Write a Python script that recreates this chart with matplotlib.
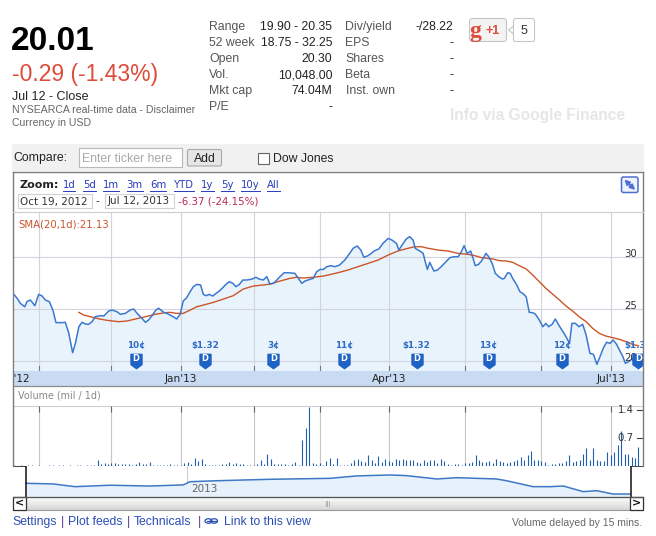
import numpy as np
import matplotlib
matplotlib.use("Agg")
import matplotlib.pyplot as plt
from matplotlib.patches import Rectangle, FancyBboxPatch, Polygon, Ellipse
from matplotlib.path import Path
from matplotlib.transforms import blended_transform_factory as blend

W, H = 656, 536
SANS = "Liberation Sans"
CHART = "DejaVu Sans"

# quote header
last_price = "20.01"
change = "-0.29 (-1.43%)"
stat_labels_1 = ["Range", "52 week", "Open", "Vol.", "Mkt cap", "P/E"]
stat_values_1 = ["19.90 - 20.35", "18.75 - 32.25", "20.30", "10,048.00", "74.04M", "-"]
stat_labels_2 = ["Div/yield", "EPS", "Shares", "Beta", "Inst. own"]
stat_values_2 = ["-/28.22", "-", "-", "-", "-"]
zoom_links = ["1d", "5d", "1m", "3m", "6m", "YTD", "1y", "5y", "10y", "All"]
footer_items = ["Settings", "|", "Plot feeds", "|", "Technicals", "|", "", "Link to this view"]

# price chart, x = trading days since Oct 19, 2012
price_days = [0.0, 0.8, 1.7, 3.0, 3.6, 4.6, 5.9, 7.0, 8.0, 8.9, 10.1, 11.1, 12.0, 13.7, 14.7,
              15.7, 16.8, 17.6, 18.6, 19.5, 20.5, 21.4, 22.4, 23.3, 24.8, 25.8, 27.2, 28.2, 29.6,
              30.6, 32.0, 33.4, 34.4, 35.4, 36.8, 37.8, 38.7, 39.7, 40.8, 41.6, 43.1, 44.0, 44.9,
              45.8, 46.8, 47.8, 48.7, 49.7, 50.7, 51.6, 52.6, 53.7, 54.5, 55.3, 56.2, 57.2, 58.2,
              59.1, 60.1, 61.0, 62.0, 63.0, 63.9, 64.9, 65.9, 67.0, 68.4, 69.7, 70.6, 71.8, 72.8,
              73.7, 74.7, 75.7, 76.6, 77.8, 79.0, 80.9, 81.9, 82.9, 83.8, 85.3, 86.2, 87.2, 88.2,
              89.1, 90.1, 91.4, 92.4, 93.8, 95.3, 96.7, 97.7, 98.9, 99.9, 100.8, 102.0, 102.9,
              103.9, 105.1, 106.3, 107.8, 108.9, 110.2, 110.9, 111.8, 113.0, 114.0, 115.0, 115.6,
              116.9, 117.9, 118.5, 119.1, 119.8, 121.0, 122.0, 123.1, 124.3, 125.6, 126.8, 128.0,
              128.9, 129.7, 130.6, 131.6, 132.3, 132.9, 133.9, 134.7, 135.5, 136.0, 136.8, 137.8,
              138.7, 139.7, 140.8, 141.3, 142.3, 143.0, 143.7, 144.9, 145.8, 146.6, 147.6, 148.5,
              149.5, 150.3, 151.4, 152.4, 153.3, 154.1, 155.1, 156.0, 157.0, 158.2, 159.1, 160.1,
              160.8, 161.8, 162.8, 163.9, 164.9, 166.0, 167.0, 168.0, 168.9, 169.9, 170.8, 171.8,
              172.7, 173.7, 174.5, 175.5, 176.2, 177.2, 178.3, 179.5, 180.0]
price_close = [26.35, 26.03, 25.55, 25.22, 25.70, 25.87, 25.32, 26.41, 26.25, 25.87, 25.70, 24.90,
               23.69, 23.69, 23.72, 22.66, 20.80, 21.70, 23.30, 23.72, 23.56, 23.53, 23.78, 24.26,
               24.36, 24.33, 24.81, 24.90, 24.74, 24.49, 24.58, 24.90, 25.00, 24.58, 24.10, 23.72,
               23.94, 24.36, 24.90, 25.07, 24.68, 24.58, 24.42, 24.26, 24.04, 24.49, 25.77, 26.09,
               26.67, 27.15, 27.37, 27.31, 26.41, 26.28, 26.41, 26.25, 26.51, 26.73, 27.05, 27.37,
               27.63, 27.47, 27.15, 27.37, 27.79, 27.79, 27.86, 28.05, 27.88, 27.79, 28.11, 27.40,
               27.47, 27.79, 28.11, 28.49, 28.49, 28.43, 27.95, 27.47, 27.69, 27.86, 27.95, 28.59,
               28.81, 28.81, 29.07, 29.17, 29.07, 29.23, 29.71, 30.35, 30.84, 31.06, 30.67, 29.97,
               30.13, 30.35, 30.61, 30.77, 31.31, 31.79, 31.63, 31.31, 30.67, 31.15, 31.73, 31.96,
               31.63, 30.84, 30.58, 30.35, 29.55, 28.81, 29.49, 28.65, 28.75, 29.07, 29.49, 29.94,
               30.03, 30.03, 30.51, 31.09, 30.35, 30.58, 29.87, 29.17, 29.30, 29.62, 30.03, 30.35,
               30.03, 29.39, 28.43, 28.11, 27.88, 27.95, 28.49, 28.43, 27.95, 27.31, 26.67, 26.51,
               26.18, 24.68, 24.65, 24.49, 23.94, 23.30, 23.62, 23.30, 23.53, 24.04, 23.46, 22.82,
               22.34, 21.70, 23.62, 23.62, 23.30, 23.53, 22.50, 20.74, 20.64, 19.68, 20.42, 21.28,
               21.80, 21.70, 22.02, 21.60, 21.06, 20.42, 19.78, 19.94, 20.26, 20.42, 20.01]
sma_days = [18.6, 20.0, 21.9, 23.8, 26.2, 28.2, 30.1, 32.5, 34.9, 37.8, 40.6, 43.5, 44.9, 46.8,
            48.7, 50.7, 52.6, 54.5, 57.4, 60.3, 63.1, 66.0, 68.9, 71.8, 73.7, 76.6, 79.5, 81.4,
            83.3, 86.2, 89.1, 90.5, 93.3, 96.2, 99.1, 102.0, 104.9, 107.8, 110.6, 113.5, 115.5,
            117.4, 119.3, 122.2, 125.1, 128.0, 130.8, 132.8, 134.7, 136.0, 138.0, 139.9, 141.8,
            143.7, 145.6, 147.6, 149.5, 151.4, 153.3, 155.3, 157.2, 159.1, 161.0, 162.9, 164.9,
            166.8, 168.7, 170.6, 172.6, 174.5, 176.4, 178.3, 180.0]
sma_vals = [24.68, 24.42, 24.26, 24.10, 23.94, 23.85, 23.78, 23.85, 24.04, 24.26, 24.49, 24.65,
            24.68, 24.58, 24.58, 24.90, 25.22, 25.38, 25.64, 25.96, 26.28, 26.92, 27.21, 27.31,
            27.40, 27.69, 27.95, 28.05, 27.98, 28.05, 28.17, 28.27, 28.49, 28.75, 29.07, 29.39,
            29.71, 30.19, 30.58, 30.84, 30.99, 30.99, 30.84, 30.67, 30.58, 30.35, 30.26, 30.13,
            29.94, 29.90, 29.81, 29.65, 29.62, 29.49, 29.17, 28.85, 28.27, 27.63, 26.99, 26.41,
            25.87, 25.29, 24.81, 24.26, 23.78, 23.14, 22.66, 22.40, 22.24, 22.08, 21.86, 21.60,
            21.45]
sma_label = "SMA(20,1d):21.13"
price_ticks = [20, 25, 30]
month_days = [7, 28, 48, 69, 88, 108, 130, 152, 172]
quarter_days = [48, 108, 172]
quarter_labels = ["Jan'13", "Apr'13", "Jul'13"]
div_days = [35.1, 55.0, 74.7, 95.1, 116.0, 136.8, 157.9, 180.0]
div_labels = ["10¢", "$1.32", "3¢", "11¢", "$1.32", "13¢", "12¢", "$1.32"]

# volume, millions, one value per trading day
volume = [0.02, 0.01, 0.02, 0.01, 0.02, 0.02, 0.01, 0.02, 0.01, 0.01, 0.02, 0.02, 0.01, 0.02,
          0.02, 0.01, 0.02, 0.01, 0.02, 0.02, 0.01, 0.02, 0.03, 0.02,
          0.16, 0.06, 0.08, 0.06, 0.08, 0.08, 0.06, 0.05, 0.04, 0.04, 0.03, 0.04, 0.10, 0.06,
          0.06, 0.09,
          0.02, 0.02, 0.02, 0.02, 0.02, 0.06, 0.03, 0.03, 0.03, 0.08, 0.10, 0.06, 0.19, 0.12,
          0.18, 0.06, 0.02, 0.02, 0.02, 0.02,
          0.06, 0.04, 0.09, 0.04, 0.07, 0.04, 0.04, 0.03, 0.03, 0.03, 0.04, 0.14, 0.06, 0.31,
          0.17, 0.06, 0.04, 0.04, 0.04, 0.03, 0.04, 0.10, 0.03, 0.65, 0.95, 1.47, 0.08, 0.06,
          0.07, 0.02, 0.12, 0.21,
          0.05, 0.21, 0.03, 0.02, 0.03, 0.08, 0.16, 0.18, 0.12, 0.10,
          0.28, 0.14, 0.08, 0.25, 0.10, 0.18, 0.12, 0.10, 0.18, 0.14,
          0.18, 0.14, 0.15, 0.14, 0.10, 0.08, 0.15, 0.10, 0.15, 0.15,
          0.08, 0.18, 0.12, 0.06, 0.03, 0.04, 0.05, 0.03, 0.08, 0.07,
          0.10, 0.27, 0.14, 0.10, 0.10, 0.12, 0.08, 0.18, 0.12, 0.10,
          0.08, 0.10, 0.12, 0.16, 0.23, 0.14, 0.27, 0.37, 0.16, 0.14,
          0.12, 0.10, 0.03, 0.04, 0.06, 0.08, 0.08, 0.12, 0.27, 0.10,
          0.12, 0.14, 0.31, 0.44, 0.16, 0.44, 0.14, 0.12, 0.12, 0.35,
          0.27, 0.35, 0.52, 0.88, 0.29, 0.31, 0.23, 0.20, 0.48]
vol_ticks = [0.7, 1.4]

# overview navigator
nav_days = [0, 8.1, 14.6, 25.0, 36.9, 46.8, 48.8, 56.7, 72.6, 90.4, 98.4, 108.3, 113.2, 122.2,
            128.1, 140.0, 143.0, 150.9, 155.9, 159.9, 165.8, 169.8, 174.7, 179.7]
nav_vals = [26.7, 26.3, 24.6, 25.5, 25.0, 25.7, 27.7, 28.3, 29.2, 29.8, 31.3, 31.9, 31.5, 29.4,
            30.2, 29.4, 28.3, 24.6, 24.6, 25.0, 21.5, 22.1, 20.0, 20.0]
nav_year_day = 48


def box(x0, y0, x1, y1):
    return [x0 / W, 1 - y1 / H, (x1 - x0) / W, (y1 - y0) / H]


fig = plt.figure(figsize=(W / 100, H / 100), dpi=100)
fig.patch.set_facecolor("white")
renderer = fig.canvas.get_renderer()

page = fig.add_axes([0, 0, 1, 1])
page.axis("off")

# scrollbar gradient
grad = np.linspace(0.99, 0.84, 20)[:, None, None] * np.ones((20, 2, 3))
page.imshow(grad, extent=(13, 643, 510, 497), aspect="auto", zorder=1)
page.set_xlim(0, W)
page.set_ylim(H, 0)

# ---- header ----
page.text(11, 50, last_price, fontsize=24, fontweight="bold", family=SANS, color="#000")
page.text(11.5, 81.5, change, fontsize=16.5, family=SANS, color="#dd4b39")
page.text(12.5, 99.5, "Jul 12 - Close", fontsize=9, family=SANS, color="#222")
page.text(12.5, 113, "NYSEARCA real-time data - Disclaimer", fontsize=7.6, family=SANS, color="#666")
page.text(12.5, 126.5, "Currency in USD", fontsize=7.6, family=SANS, color="#666")

for i, (lab, val) in enumerate(zip(stat_labels_1, stat_values_1)):
    y = 30 + 16 * i
    page.text(209, y, lab, fontsize=8.8, family=SANS, color="#555")
    page.text(332.5, y, val, fontsize=8.8, family=SANS, color="#222", ha="right")
for i, (lab, val) in enumerate(zip(stat_labels_2, stat_values_2)):
    y = 30 + 16 * i
    page.text(345.5, y, lab, fontsize=8.8, family=SANS, color="#555")
    page.text(453, y, val, fontsize=8.8, family=SANS, color="#222", ha="right")

# +1 button and counter
page.add_patch(FancyBboxPatch((469.5, 18.5), 37, 23, boxstyle="round,pad=0,rounding_size=3",
                              fc="#f3f3f3", ec="#c6c6c6", lw=0.8, zorder=2))
page.text(475.5, 36.5, "g", fontsize=17, fontweight="bold", family="Liberation Serif",
          color="#dd4b39", ha="center", zorder=3)
page.text(492.5, 34.5, "+1", fontsize=9, fontweight="bold", family=SANS, color="#dd4b39",
          ha="center", zorder=3)
page.add_patch(Polygon([(513.5, 26), (508.5, 30), (513.5, 34)], closed=True, fc="white",
                       ec="#c6c6c6", lw=0.8, zorder=2))
page.add_patch(FancyBboxPatch((513.5, 18.5), 21, 23, boxstyle="round,pad=0,rounding_size=2",
                              fc="white", ec="#c6c6c6", lw=0.8, zorder=2))
page.text(524, 34, "5", fontsize=9, family=SANS, color="#333", ha="center", zorder=3)

page.text(450, 120, "Info via Google Finance", fontsize=11.2, fontweight="bold", family=SANS,
          color="#e6e6e6")

# compare bar
page.add_patch(Rectangle((12, 143.5), 632, 27, fc="#f1f1f1", ec="none", zorder=1))
page.text(13.5, 161.5, "Compare:", fontsize=8.8, family=SANS, color="#222", zorder=3)
page.add_patch(Rectangle((78.5, 147.5), 103, 19, fc="white", ec="#b9b9b9", lw=0.8, zorder=2))
page.text(81.5, 161.5, "Enter ticker here", fontsize=8.8, family=SANS, color="#a8a8a8", zorder=3)
page.add_patch(FancyBboxPatch((187.5, 149.5), 34, 16.5, boxstyle="round,pad=0,rounding_size=1.5",
                              fc="#e6e6e6", ec="#a9a9a9", lw=0.8, zorder=2))
page.text(204.6, 161.5, "Add", fontsize=8.8, family=SANS, color="#222", ha="center", zorder=3)
page.add_patch(Rectangle((257.5, 152.5), 11.5, 11.5, fc="white", ec="#666", lw=0.8, zorder=2))
page.text(272.7, 161.5, "Dow Jones", fontsize=8.8, family=SANS, color="#222", zorder=3)

# chart header row
page.text(19, 188.3, "Zoom:", fontsize=8.0, fontweight="bold", family=CHART, color="#222")
link_col = "#2a3bbd"
x = 62.7
for lab in zoom_links:
    t = page.text(x, 188.5, lab, fontsize=7.3, family=CHART, color=link_col)
    w = t.get_window_extent(renderer).width
    page.plot([x, x + w], [191, 191], color=link_col, lw=0.7)
    x += w + 7.4

page.add_patch(Rectangle((17.5, 193.5), 74, 14.5, fc="white", ec="#d2d2d2", lw=0.8))
page.text(20, 204.5, "Oct 19, 2012", fontsize=7.5, family=CHART, color="#333")
page.text(96, 204.5, "-", fontsize=7.5, family=CHART, color="#333")
page.add_patch(Rectangle((105, 193.5), 68.5, 14.5, fc="white", ec="#d2d2d2", lw=0.8))
page.text(107.7, 204.5, "Jul 12, 2013", fontsize=7.5, family=CHART, color="#333")
page.text(178.3, 204.5, "-6.37 (-24.15%)", fontsize=7.4, family=CHART, color="#b8284c")

# full screen icon
page.add_patch(FancyBboxPatch((621.5, 177), 16.5, 15.5, boxstyle="round,pad=0,rounding_size=2",
                              fc="#eef2fc", ec="#4d6fcf", lw=1.1))
page.annotate("", xy=(635.2, 190), xytext=(624.3, 179.5),
              arrowprops=dict(arrowstyle="<|-|>", color="#4d6fcf", lw=1.4, mutation_scale=7,
                              shrinkA=0, shrinkB=0))

# ---- price panel ----
xlim = (-0.4, 181.3)
ax = fig.add_axes(box(13, 212, 643, 371))
ax.set_facecolor("none")
ax.set_xlim(*xlim)
ax.set_ylim(19.04, 34.33)
ax.fill_between(price_days, price_close, 19.04, color="#e9f3fc", lw=0, zorder=1)
for d in month_days:
    ax.axvline(d, color="#d3d3db", lw=0.8, zorder=1.5)
    ax.plot([d, d], [0, 0.032], transform=blend(ax.transData, ax.transAxes), color="#777",
            lw=0.8, zorder=1.6)
for v in price_ticks:
    ax.axhline(v, color="#d3d3e0", lw=0.8, zorder=1.5)
ax.plot(price_days, price_close, color="#3b78cf", lw=1.1, zorder=3)
ax.plot(sma_days, sma_vals, color="#cc5528", lw=1.0, zorder=2.5)
ty = blend(ax.transAxes, ax.transData)
for v in price_ticks:
    ax.text(0.9905, v, str(v), transform=ty, ha="right", va="baseline", fontsize=7.3,
            family=CHART, color="#333", zorder=4)
ax.text(0.0084, 0.92, sma_label, transform=ax.transAxes, fontsize=7.3, family=CHART,
        color="#c8552d", va="center")

flag = Path([(-5.5, 7.15), (5.5, 7.15), (5.5, -3.15), (0, -7.15), (-5.5, -3.15), (-5.5, 7.15)],
            [Path.MOVETO] + [Path.LINETO] * 4 + [Path.CLOSEPOLY])
tx = blend(ax.transData, ax.transAxes)
ax.plot(div_days, [0.062] * len(div_days), transform=tx, ls="none", marker=flag,
        markersize=10.3, color="#1d62c4", zorder=5, clip_on=True)
for d, lab in zip(div_days, div_labels):
    ax.text(d, 0.078, "D", transform=tx, ha="center", va="center", fontsize=6,
            fontweight="bold", family=CHART, color="white", zorder=6, clip_on=True)
    ax.text(d, 0.159, lab, transform=tx, ha="center", va="center", fontsize=6.3,
            fontweight="bold", family=CHART, color="#2e6cc6", zorder=6, clip_on=True)
ax.set_xticks([])
ax.set_yticks([])
for s in ax.spines.values():
    s.set_visible(False)

# month band
band = fig.add_axes(box(13, 371, 643, 386))
band.set_facecolor("#c8dbf2")
band.set_xlim(*xlim)
band.set_ylim(0, 1)
band.set_xticks([])
band.set_yticks([])
for s in band.spines.values():
    s.set_visible(False)
band.text(xlim[0], 0.5, "Oct'12", ha="center", va="center", fontsize=7.6, family=CHART,
          color="#222", clip_on=True)
for d, lab in zip(quarter_days, quarter_labels):
    band.text(d, 0.5, lab, ha="center", va="center", fontsize=7.6, family=CHART, color="#222",
              clip_on=True)

# ---- volume panel ----
vax = fig.add_axes(box(13, 386, 643, 466))
vax.set_facecolor("none")
vax.set_xlim(*xlim)
vax.set_ylim(0, 2.0)
vax.axhline(1.5, color="#cfcfd8", lw=0.8)
vax.vlines(month_days, 0, 1.5, color="#c6c6c6", lw=0.8)
vax.vlines(month_days, 1.36, 1.5, color="#666", lw=0.8)
vax.vlines(np.arange(len(volume)), 0, volume, color="#1f5fae", lw=0.8, zorder=3)
vax.text(0.0084, 1.75, "Volume (mil / 1d)", transform=blend(vax.transAxes, vax.transData),
         fontsize=6.9, family=CHART, color="#888", va="center")
vty = blend(vax.transAxes, vax.transData)
for v in vol_ticks:
    vax.text(0.9857, v, str(v), transform=vty, ha="right", va="center", fontsize=7.3,
             family=CHART, color="#333", zorder=4)
    vax.plot([0.9905, 1.0], [v, v], transform=vty, color="#444", lw=0.8, clip_on=False)
vax.set_xticks([])
vax.set_yticks([])
for s in vax.spines.values():
    s.set_visible(False)

# ---- navigator ----
nav = fig.add_axes(box(13, 466, 643, 497))
nav.set_facecolor("none")
nlim = (-3.87, 183.6)
nav.set_xlim(*nlim)
nav.set_ylim(18.15, 37.5)
nav.axvline(nav_year_day, color="#cccccc", lw=0.8, zorder=0.5)
nav.fill_between(nav_days, nav_vals, 18.15, color="#e6f1fb", lw=0, zorder=1)
nav.plot(nav_days, nav_vals, color="#3d78c6", lw=1.1, zorder=2)
nav.text(nav_year_day + 1.2, 0.26, "2013", transform=blend(nav.transData, nav.transAxes),
         fontsize=7.5, family=CHART, color="#666", va="center", zorder=3)
nav.vlines([price_days[0], price_days[-1]], 18.15, 37.5, color="#111", lw=1.1, zorder=4)
nav.hlines([37.5, 37.5], [nlim[0], price_days[-1]], [price_days[0], nlim[1]], color="#111",
           lw=1.1, zorder=4)
nav.set_xticks([])
nav.set_yticks([])
for s in nav.spines.values():
    s.set_visible(False)

# ---- overlay: frame, separators, scrollbar, footer ----
top = fig.add_axes([0, 0, 1, 1], zorder=5)
top.set_facecolor("none")
top.axis("off")
top.set_xlim(0, W)
top.set_ylim(H, 0)
frame = "#7c7c7c"
top.plot([13, 13], [172, 466], color=frame, lw=1)
top.plot([642.5, 642.5], [172, 466], color=frame, lw=1)
top.plot([13, 642.5], [172, 172], color=frame, lw=1)
top.plot([13, 642.5], [212, 212], color="#cdcdcd", lw=0.8)
top.plot([13, 642.5], [386, 386], color="#8c8c8c", lw=0.9)

# scrollbar
top.add_patch(Rectangle((13, 497), 630, 13, fc="none", ec="#9a9a9a", lw=0.8))
top.plot([13, 643], [497, 497], color="#555", lw=0.9)
for bx, arrow in [(13, "<"), (630, ">")]:
    top.add_patch(Rectangle((bx, 497), 13, 12.5, fc="white", ec="#333", lw=0.9))
    top.text(bx + 6.5, 503.5, arrow, ha="center", va="center", fontsize=8, fontweight="bold",
             family=CHART, color="#111")
for gx in (325.5, 327, 328.5):
    top.plot([gx, gx], [500.5, 506], color="#aaa", lw=0.6)

# footer
link_blue = "#2a4db5"
footer_x = [12.5, 60.5, 68.3, 126.5, 134, 197.5, 205, 224.5]
for fx, item in zip(footer_x, footer_items):
    if item == "|":
        top.text(fx, 525, item, fontsize=8.8, family=SANS, color="#553a8f")
    elif item:
        top.text(fx, 525, item, fontsize=8.8, family=SANS, color=link_blue)
    else:
        top.add_patch(Ellipse((fx + 3.5, 521), 7, 4.5, fc="none", ec=link_blue, lw=0.9))
        top.add_patch(Ellipse((fx + 9, 521), 7, 4.5, fc="none", ec=link_blue, lw=0.9))
        top.plot([fx + 1.5, fx + 11], [521, 521], color=link_blue, lw=0.9)
top.text(642, 526, "Volume delayed by 15 mins.", ha="right", fontsize=7.5, family=SANS,
         color="#666")

fig.savefig("out.png", dpi=100)
